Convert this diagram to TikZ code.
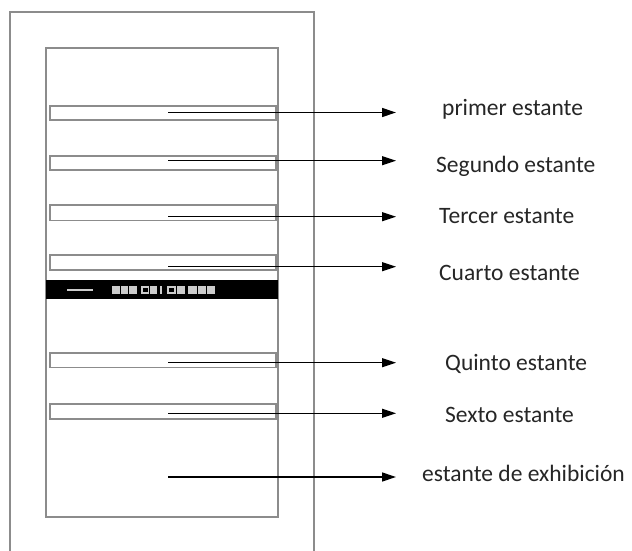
\documentclass[tikz,border=0pt]{standalone}
\usepackage{fontspec}
\setmainfont{Carlito}
\usetikzlibrary{arrows.meta}
\begin{document}
\begin{tikzpicture}[x=1pt,y=-1pt,
  frame/.style={draw=black!45,line width=1.3pt},
  shelf/.style={draw=black!45,line width=1.2pt,fill=white},
  pointer/.style={draw=black,line width=1.3pt,-{Triangle[length=14pt,width=9pt]}},
  lbl/.style={anchor=base west,inner sep=0pt,text=black!85,font=\fontsize{23.5}{28}\selectfont},
  icon/.style={fill=white!80!black,draw=none}]
\useasboundingbox[fill=white] (0,0) rectangle (632,551);
% outer cabinet (open at bottom)
\draw[frame] (10,560) -- (10,12) -- (314,12) -- (314,560);
% inner compartment
\draw[frame] (46,48) rectangle (278,517);
% shelves
\foreach \n/\t/\b in {1/106/120,2/156/170,3/205/220.5,4/255/270,5/353/367.5,6/404/419}
  \draw[shelf] (50,\t) rectangle (276,\b);
% control panel bar
\fill[black] (46,280) rectangle (278,299);
\fill[icon] (67,288.5) rectangle (93,291);
\foreach \a/\b in {112/120,121/128,129/137,141/149,150/157,167/176,177/185,188/197,198/206,207/215}
  \fill[icon] (\a,285.5) rectangle (\b,294);
\fill[black] (143,287.5) rectangle (147.5,292);
\fill[black] (169,287.5) rectangle (174,292);
\fill[icon] (160,286) rectangle (162,294);
% pointer start / end coordinates
\foreach \n/\y in {1/112.5,2/160.7,3/216.7,4/266.7,5/362.7,6/413.3,7/477}{
  \coordinate (s\n) at (168,\y);
  \coordinate (e\n) at (396,\y);
}
\foreach \n in {1,...,7} \draw[pointer] (s\n) -- (e\n);
% labels
\node[lbl] (l1) at (442,115.5) {primer estante};
\node[lbl] (l2) at (436,172.5) {Segundo estante};
\node[lbl] (l3) at (439,223) {Tercer estante};
\node[lbl] (l4) at (439,280) {Cuarto estante};
\node[lbl] (l5) at (445,370) {Quinto estante};
\node[lbl] (l6) at (445,422) {Sexto estante};
\node[lbl] (l7) at (422,481.5) {estante de exhibición};
\end{tikzpicture}
\end{document}
